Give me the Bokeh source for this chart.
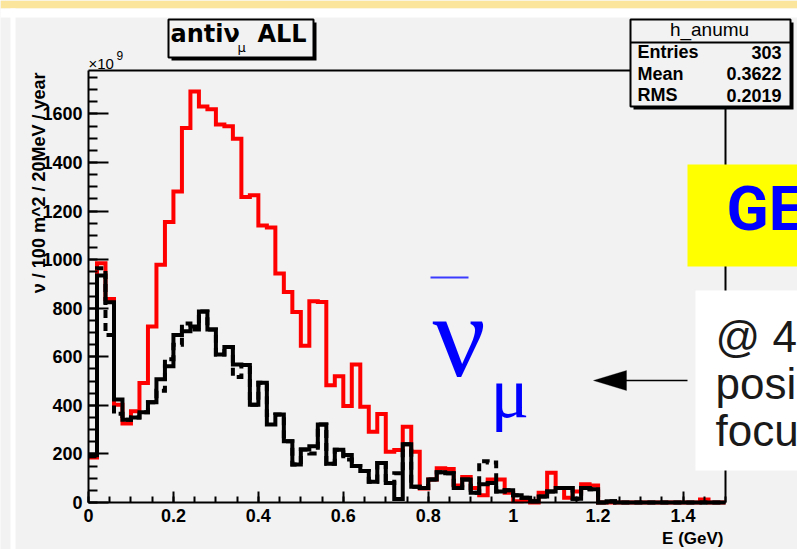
import numpy as np
from math import pi
from bokeh.plotting import figure
from bokeh.models import (Range1d, Label, BoxAnnotation, Arrow, PolyAnnotation,
                          FixedTicker, NumeralTickFormatter)
from bokeh.embed import file_html
from bokeh.resources import INLINE

# ---------------- data: anti-numu flux, 20 MeV bins, units of 1e9 ----------------
bin_width = 0.02
n_bins = 75

flux_red = [185, 985, 838, 403, 325, 376, 492, 725, 979, 1155,
            1281, 1542, 1693, 1631, 1619, 1557, 1549, 1498, 1258, 1265,
            1141, 1132, 943, 867, 785, 645, 829, 826, 483, 520,
            397, 568, 394, 291, 364, 209, 216, 312, 209, 58,
            95, 141, 138, 70, 105, 60, 30, 95, 95, 40,
            5, 10, 0, 40, 123, 60, 20, 45, 75, 70,
            0, 0, 0, 0, 0, 0, 0, 0, 0, 0,
            0, 0, 12, 0, 0]

flux_black = [195, 935, 825, 424, 341, 350, 372, 413, 508, 561,
              690, 705, 725, 787, 712, 609, 640, 568, 566, 403,
              493, 321, 362, 252, 156, 218, 232, 321, 160, 217,
              196, 150, 130, 85, 163, 80, 14, 240, 65, 60,
              95, 125, 120, 60, 95, 40, 75, 80, 45, 50,
              30, 20, 5, 25, 45, 60, 60, 15, 60, 55,
              0, 5, 0, 0, 0, 0, 0, 0, 0, 0,
              0, 0, 0, 0, 0]

flux_black_dash = [190, 965, 690, 365, 341, 350, 372, 413, 460, 590,
                   650, 737, 712, 787, 712, 609, 640, 517, 566, 403,
                   493, 360, 362, 252, 156, 218, 202, 321, 160, 217,
                   177, 150, 130, 85, 163, 80, 120, 240, 65, 60,
                   95, 125, 120, 60, 95, 40, 170, 165, 45, 50,
                   30, 20, 5, 25, 45, 60, 60, 15, 60, 55,
                   0, 5, 0, 0, 0, 0, 0, 0, 0, 0,
                   0, 0, 0, 0, 0]

x_major = [0, 0.2, 0.4, 0.6, 0.8, 1.0, 1.2, 1.4]
x_minor = [round(0.05 * i, 2) for i in range(31)]
y_major = [0, 200, 400, 600, 800, 1000, 1200, 1400, 1600]
y_minor = [50 * i for i in range(36)]

stats_rows = [("Entries", "303"), ("Mean", "0.3622"), ("RMS", "0.2019")]
note_lines = ["@ 4", "posi", "focu"]

# ---------------- canvas geometry ----------------
# The frame fills the whole canvas; the histogram pad sits inside it at
# pixel box (PL..PR, PT..PB) and the ranges are stretched to match.
W, H = 797, 549
PL, PR, PT, PB = 88, 725, 70, 502
X_MAX, Y_MAX = 1.5, 1779

kx = (PR - PL) / X_MAX
ky = (PB - PT) / Y_MAX
x_range = Range1d(-PL / kx, X_MAX + (W - PR) / kx)
y_range = Range1d(-(H - PB) / ky, Y_MAX + PT / ky)

def sx(px):
    return px

def sy(py):
    return H - py

p = figure(width=W, height=H, x_range=x_range, y_range=y_range,
           output_backend="svg", toolbar_location=None,
           min_border_left=0, min_border_right=0, min_border_top=0, min_border_bottom=0)
p.background_fill_color = "#f2f2f2"
p.border_fill_color = "#f2f2f2"
p.outline_line_color = None
p.xgrid.visible = False
p.ygrid.visible = False

xa = p.xaxis[0]
xa.fixed_location = 0
xa.bounds = (0, X_MAX)
xa.ticker = FixedTicker(ticks=x_major, minor_ticks=x_minor)
xa.formatter = NumeralTickFormatter(format="0.[0]")
xa.major_tick_in, xa.major_tick_out = 11, 0
xa.minor_tick_in, xa.minor_tick_out = 6, 0
xa.major_label_standoff = 6

ya = p.yaxis[0]
ya.fixed_location = 0
ya.bounds = (0, Y_MAX)
ya.ticker = FixedTicker(ticks=y_major, minor_ticks=y_minor)
ya.major_tick_in, ya.major_tick_out = 20, 0
ya.minor_tick_in, ya.minor_tick_out = 9, 0
ya.major_label_standoff = 6

for ax in (xa, ya):
    ax.axis_line_color = "black"
    ax.axis_line_width = 2
    ax.major_tick_line_color = "black"
    ax.major_tick_line_width = 2
    ax.minor_tick_line_color = "black"
    ax.minor_tick_line_width = 2
    ax.major_label_text_font = "Liberation Sans"
    ax.major_label_text_font_style = "bold"
    ax.major_label_text_font_size = "18px"
    ax.major_label_text_color = "black"

# ---------------- histograms ----------------
edges = np.arange(n_bins + 1) * bin_width

def steps(vals):
    return list(vals) + [vals[-1]]

# top and right edges of the pad frame
p.line([0, X_MAX, X_MAX], [Y_MAX, Y_MAX, 0], line_color="black", line_width=2)

p.step(edges, steps(flux_red), mode="after", line_color="#ff0000", line_width=4, line_join="miter")
p.step(edges, steps(flux_black_dash), mode="after", line_color="black", line_width=4,
       line_dash="8 5", line_join="miter")
p.step(edges, steps(flux_black), mode="after", line_color="black", line_width=4, line_join="miter")


def box(x0, y0, x1, y1, fill, line=None, lw=0):
    b = BoxAnnotation(left=sx(x0), right=sx(x1), top=sy(y0), bottom=sy(y1),
                      left_units="screen", right_units="screen",
                      top_units="screen", bottom_units="screen",
                      fill_color=fill, fill_alpha=1.0,
                      line_color=line, line_width=lw, line_alpha=1.0 if line else 0.0,
                      editable=False)
    p.add_layout(b)


def text(x, y, s, size, font="Liberation Sans", style="normal", color="black",
         align="left", baseline="alphabetic", angle=0):
    # y is the wanted baseline; the label anchor sits about a third of an em above it
    if baseline == "alphabetic":
        y = y - 0.36 * size
    p.add_layout(Label(x=sx(x), y=sy(y), x_units="screen", y_units="screen", text=s,
                       text_font=font, text_font_size=f"{size}px", text_font_style=style,
                       text_color=color, text_align=align, text_baseline=baseline,
                       angle=angle))


# slide background strips
box(0, 0, W, 8, "#fbe59c")
box(0, 8, W, 17, "#ffffff")
box(10, 8, 15, H, "#ffffff")

# title box
box(171, 22, 316, 60, "black")
box(168, 19, 313, 57, "#f2f2f2", "black", 2)
text(170, 42, "antiν", 24, font="DejaVu Sans", style="bold")
text(237, 52, "μ", 13, font="DejaVu Sans")
text(257, 42, "ALL", 24, font="DejaVu Sans", style="bold")

# statistics box
box(633, 22, 793, 109, "black")
box(630, 19, 790, 106, "#f2f2f2", "black", 2)
box(630, 41, 790, 43, "black")
text(709, 36, "h_anumu", 19, align="center")
for i, (k, v) in enumerate(stats_rows):
    yb = 58 + 21.5 * i
    text(637, yb, k, 18, style="bold")
    text(781, yb, v, 18, style="bold", align="right")

# axis titles
text(38, 72, "ν / 100 m^2 / 20MeV / year", 18, style="bold", align="right",
     baseline="middle", angle=pi / 2)
text(88, 68, "×10", 15)
text(116, 59, "9", 12)
text(723, 544, "E (GeV)", 17, style="bold", align="right")

# highlighted boxes on the right
box(687, 164, W, 266, "#ffff00")
text(726, 230, "GE", 62, font="Roboto", style="bold", color="#0000ff")
box(695, 290, W, 470, "#ffffff")
for i, line in enumerate(note_lines):
    text(715, 352 + 47 * i, line, 44, color="#1a1a1a")

# arrow pointing at the curves
p.add_layout(Arrow(x_start=sx(687), y_start=sy(380), x_end=sx(624), y_end=sy(380),
                   start_units="screen", end_units="screen", end=None,
                   line_color="black", line_width=1.5))
p.add_layout(PolyAnnotation(xs=[sx(593), sx(626), sx(626)], ys=[sy(380), sy(370), sy(390)],
                            xs_units="screen", ys_units="screen",
                            fill_color="black", fill_alpha=1.0, line_color="black",
                            editable=False))

# anti-numu symbol
box(430, 276, 468, 278, "#3b3bff")
text(432, 378, "ν", 118, font="Liberation Serif", color="#0000ff")
text(490, 418, "μ", 72, font="Liberation Serif", color="#0000ff")

open("out.html", "w").write(file_html(p, INLINE))
